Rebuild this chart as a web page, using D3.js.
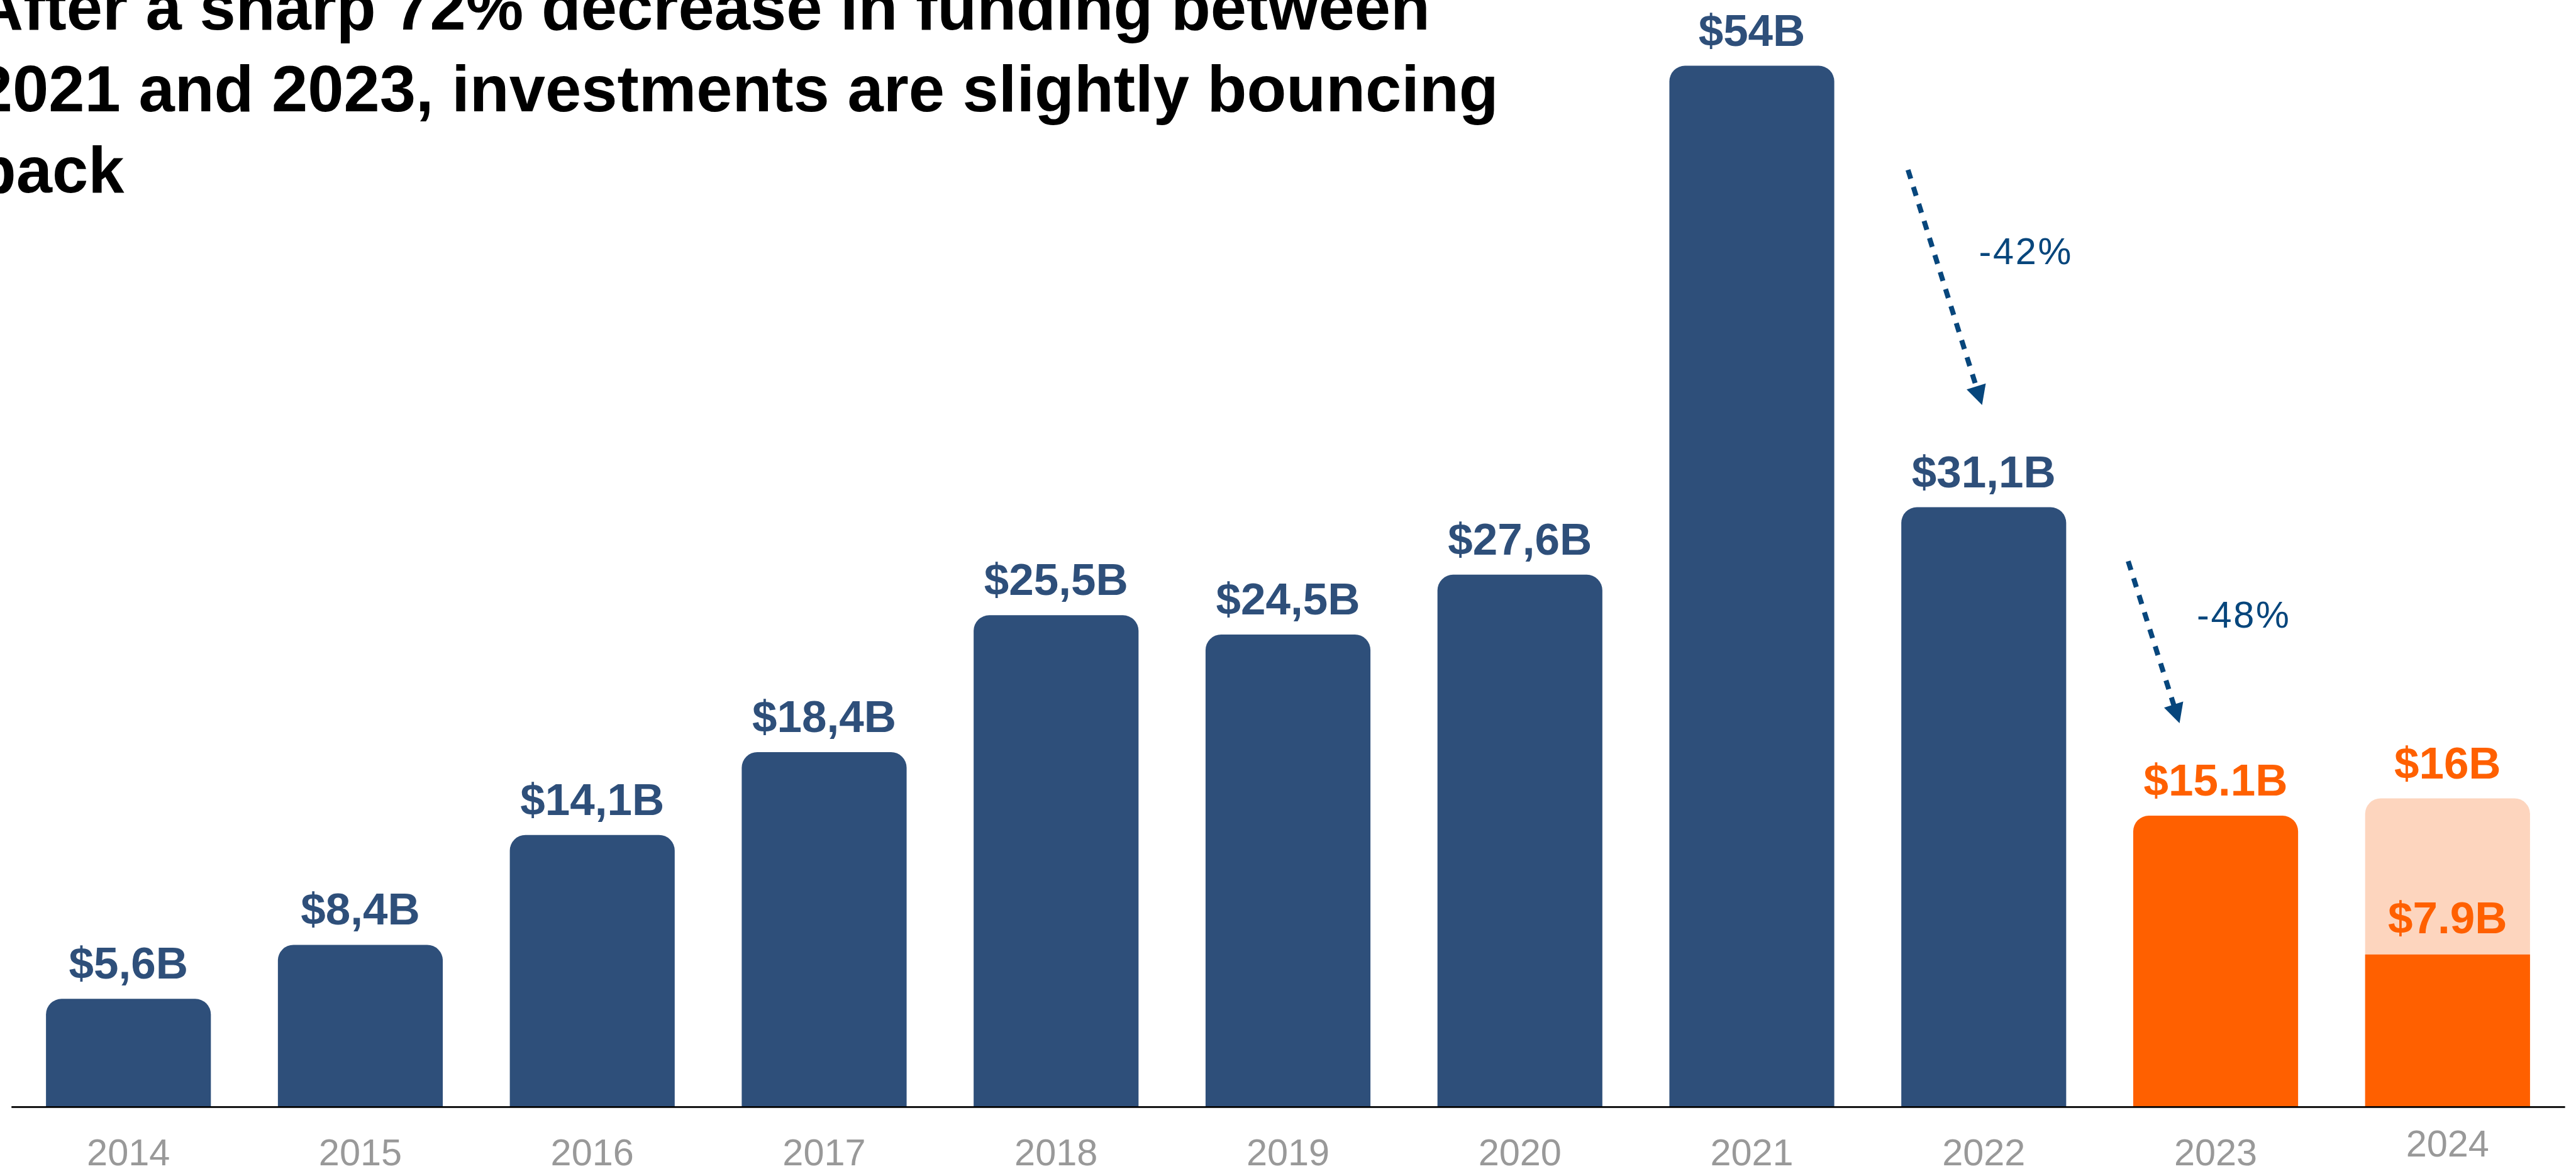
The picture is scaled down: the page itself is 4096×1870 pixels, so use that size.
<!DOCTYPE html>
<html>
<head>
<meta charset="utf-8">
<script src="https://cdn.jsdelivr.net/npm/d3@7"></script>
<style>
  html, body { margin: 0; padding: 0; background: #ffffff; overflow: hidden; }
  svg { display: block; }
</style>
</head>
<body>
<svg id="chart" width="4096" height="1870" viewBox="0 0 4615 2107"></svg>
<script>
// Funding per year, in billions of dollars
const years = ["2014", "2015", "2016", "2017", "2018", "2019", "2020", "2021", "2022", "2023", "2024"];
const values = [5.6, 8.4, 14.1, 18.4, 25.5, 24.5, 27.6, 54, 31.1, 15.1, 16];
const valueLabels = ["$5,6B", "$8,4B", "$14,1B", "$18,4B", "$25,5B", "$24,5B", "$27,6B", "$54B", "$31,1B", "$15.1B", "$16B"];
const highlightYears = ["2023", "2024"];

// 2024: amount raised so far, shown inside the projected total
const partialYear = "2024";
const partialValue = 7.9;
const partialLabel = "$7.9B";

// Year-over-year drops
const dropFrom = ["2021", "2022"];
const dropTo = ["2022", "2023"];
const dropLabels = ["-42%", "-48%"];

const titleLines = [
  "After a sharp 72% decrease in funding between",
  "2021 and 2023, investments are slightly bouncing",
  "back"
];

const BLUE = "#2E4F7A";
const ORANGE = "#FF6000";
const LIGHT_ORANGE = "#FDD5BE";
const ARROW = "#07467C";
const FONT = "'Liberation Sans', Arial, Helvetica, sans-serif";

const svg = d3.select("#chart");
const baseY = 1983;

const x = d3.scaleBand()
  .domain(years)
  .range([20, 4595])
  .paddingInner(0.289)
  .paddingOuter(0.15);

const y = d3.scaleLinear()
  .domain([0, 54])
  .range([baseY, baseY - 54 * 34.54]);

const bw = x.bandwidth();

// Bar with rounded top corners only
function roundedTop(x0, y0, w, h, r) {
  r = Math.min(r, h, w / 2);
  return `M${x0},${y0 + h}V${y0 + r}A${r},${r} 0 0 1 ${x0 + r},${y0}` +
         `H${x0 + w - r}A${r},${r} 0 0 1 ${x0 + w},${y0 + r}V${y0 + h}Z`;
}

const data = years.map((yr, i) => ({ year: yr, value: values[i], label: valueLabels[i] }));

// Title
svg.append("g")
  .selectAll("text")
  .data(titleLines)
  .join("text")
  .attr("x", -42)
  .attr("y", (d, i) => 53 + i * 146)
  .attr("font-family", FONT)
  .attr("font-weight", "bold")
  .attr("font-size", 116)
  .attr("fill", "#000")
  .text(d => d);

// Bars
const bars = svg.append("g");
bars.selectAll("path")
  .data(data)
  .join("path")
  .attr("d", d => roundedTop(x(d.year), y(d.value), bw, y(0) - y(d.value), 28))
  .attr("fill", d => {
    if (d.year === partialYear) return LIGHT_ORANGE;
    return highlightYears.includes(d.year) ? ORANGE : BLUE;
  });

// Year-to-date segment of the 2024 bar
bars.append("rect")
  .attr("x", x(partialYear))
  .attr("y", y(partialValue))
  .attr("width", bw)
  .attr("height", y(0) - y(partialValue))
  .attr("fill", ORANGE);

// Value labels
svg.append("g")
  .selectAll("text")
  .data(data)
  .join("text")
  .attr("x", d => x(d.year) + bw / 2)
  .attr("y", d => y(d.value) - 36)
  .attr("text-anchor", "middle")
  .attr("font-family", FONT)
  .attr("font-weight", "bold")
  .attr("font-size", 80)
  .attr("fill", d => highlightYears.includes(d.year) ? ORANGE : BLUE)
  .text(d => d.label);

svg.append("text")
  .attr("x", x(partialYear) + bw / 2)
  .attr("y", y(partialValue) - 38)
  .attr("text-anchor", "middle")
  .attr("font-family", FONT)
  .attr("font-weight", "bold")
  .attr("font-size", 80)
  .attr("fill", ORANGE)
  .text(partialLabel);

// X axis
const axis = svg.append("g")
  .attr("transform", `translate(0,${baseY})`)
  .call(d3.axisBottom(x).tickSize(0).tickSizeOuter(0).tickPadding(57));
axis.select(".domain").attr("stroke", "#000").attr("stroke-width", 3);
axis.selectAll(".tick text")
  .attr("font-family", FONT)
  .attr("font-size", 67)
  .attr("fill", "#999999");
axis.selectAll(".tick")
  .filter(d => d === partialYear)
  .select("text")
  .attr("y", 42);

// Drop annotations: dashed arrow plus percentage
const annot = [
  { x0: x(dropTo[0]) + 12, y0: y(48.6), x1: x(dropTo[0]) + bw / 2 - 3, y1: y(36.4),
    tx: x(dropTo[0]) + 139, ty: y(43.7), label: dropLabels[0] },
  { x0: x(dropTo[1]) - 9, y0: y(28.3), x1: x(dropTo[1]) + 83, y1: y(19.9),
    tx: x(dropTo[1]) + 114, ty: y(24.85), label: dropLabels[1] }
];

const ag = svg.append("g");
annot.forEach(a => {
  const dx = a.x1 - a.x0, dy = a.y1 - a.y0;
  const len = Math.hypot(dx, dy);
  const ux = dx / len, uy = dy / len;
  const head = 35, half = 18;
  const bx = a.x1 - ux * head, by = a.y1 - uy * head;
  ag.append("line")
    .attr("x1", a.x0).attr("y1", a.y0)
    .attr("x2", bx + ux * 2).attr("y2", by + uy * 2)
    .attr("stroke", ARROW)
    .attr("stroke-width", 9)
    .attr("stroke-dasharray", "16.5,15.5");
  ag.append("polygon")
    .attr("points", [
      [a.x1, a.y1],
      [bx - uy * half, by + ux * half],
      [bx + uy * half, by - ux * half]
    ].map(p => p.join(",")).join(" "))
    .attr("fill", ARROW);
  ag.append("text")
    .attr("x", a.tx)
    .attr("y", a.ty)
    .attr("font-family", FONT)
    .attr("font-size", 67)
    .attr("letter-spacing", 3)
    .attr("fill", ARROW)
    .text(a.label);
});
</script>
</body>
</html>
